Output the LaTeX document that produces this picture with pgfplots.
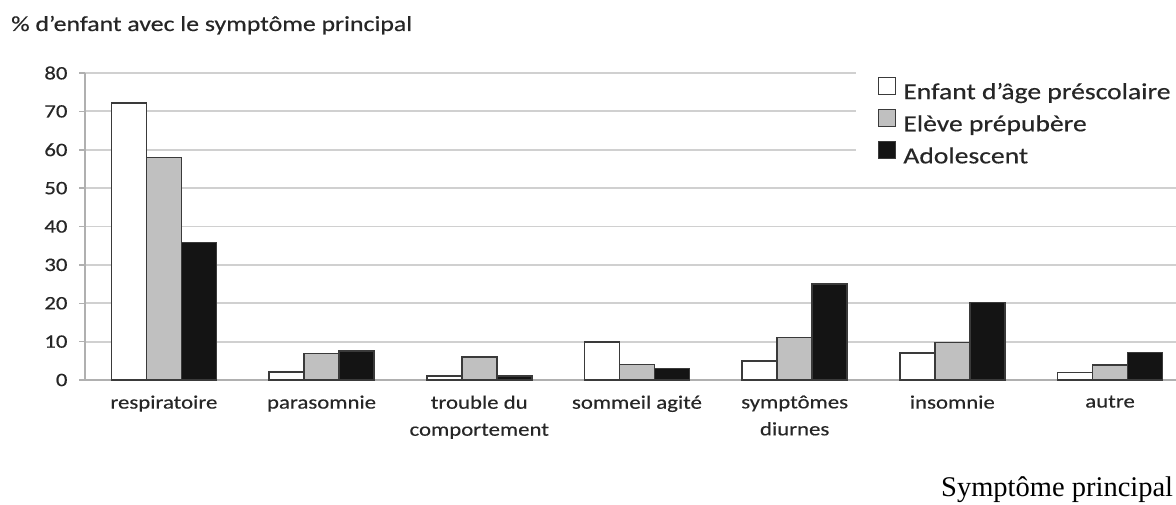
\documentclass[border=0pt]{standalone}
\usepackage{pgfplots}
\pgfplotsset{compat=1.18}
\usepackage{fontspec}
\setmainfont{Carlito}[FakeStretch=1.2,FakeBold=0.4]
\newfontfamily\seriffont{Liberation Serif}
\definecolor{gridgray}{HTML}{D0D0D0}
\definecolor{axgray}{HTML}{B0B0B0}
\definecolor{bargray}{HTML}{C0C0C0}
\definecolor{barblack}{HTML}{141414}
\definecolor{edge}{HTML}{3A3A3A}
\definecolor{txt}{HTML}{262626}
\begin{document}
\begin{tikzpicture}[x=1pt,y=1pt]
\path[use as bounding box] (0,0) rectangle (1176,504);
\node[anchor=base west,text=txt,font=\fontsize{21.5}{24}\selectfont,inner sep=0pt] at (11,473) {\% d'enfant avec le symptôme principal};
\begin{axis}[
  at={(85pt,124pt)}, anchor=south west,
  scale only axis, width=1091pt, height=307pt,
  xmin=-0.5, xmax=6.418, ymin=0, ymax=80,
  ytick={0,10,...,80},
  xtick={0,...,6},
  xticklabels={respiratoire,parasomnie,{trouble du\\comportement},sommeil agité,{symptômes\\diurnes},insomnie,autre},
  minor xtick={-0.5,0.5,...,5.5},
  axis x line*=bottom, axis y line*=left,
  axis line style={axgray,line width=1.5pt,-},
  ymajorgrids, grid style={gridgray,line width=1.8pt},
  tick align=outside,
  major tick length=6pt, minor tick length=6pt,
  xtick style={draw=none},
  minor x tick style={axgray,line width=1.5pt},
  ytick style={axgray,line width=1.5pt},
  tick label style={text=txt,font=\fontsize{19}{27}\selectfont},
  xticklabel style={align=center,yshift=-6pt},
  yticklabel style={xshift=-8pt},
  /pgf/number format/assume math mode=true,
  ybar=0pt, bar width=35pt,
  legend style={at={(0.7067,1.02)},anchor=north west,draw=none,fill=white,
    font=\fontsize{23}{27}\selectfont,text=txt,
    inner xsep=22pt,inner ysep=10pt,
    nodes={inner sep=0pt,text height=17pt,text depth=6pt},
    /tikz/column sep=7pt,/tikz/row sep=4pt},
  legend cell align=left,
  legend image code/.code={\draw[#1,line width=1.2pt] (0pt,-1pt) rectangle (17pt,16pt);},
  clip=false,
]
\addplot[fill=white,draw=edge,line width=1.5pt] coordinates {(0,72.2) (1,2.1) (2,1.0) (3,9.9) (4,5.0) (5,7.0) (6,2.0)};
\addplot[fill=bargray,draw=edge,line width=1.5pt] coordinates {(0,58.0) (1,6.9) (2,6.0) (3,4.0) (4,11.1) (5,9.8) (6,3.9)};
\addplot[fill=barblack,draw=edge,line width=1.5pt] coordinates {(0,35.8) (1,7.6) (2,1.0) (3,3.0) (4,25.0) (5,20.2) (6,7.2)};
\legend{Enfant d'âge préscolaire,Elève prépubère,Adolescent}
\end{axis}
\node[anchor=base west,inner sep=0pt,font=\seriffont\fontsize{28.5}{32}\selectfont] at (941,8) {Symptôme principal};
\end{tikzpicture}
\end{document}
